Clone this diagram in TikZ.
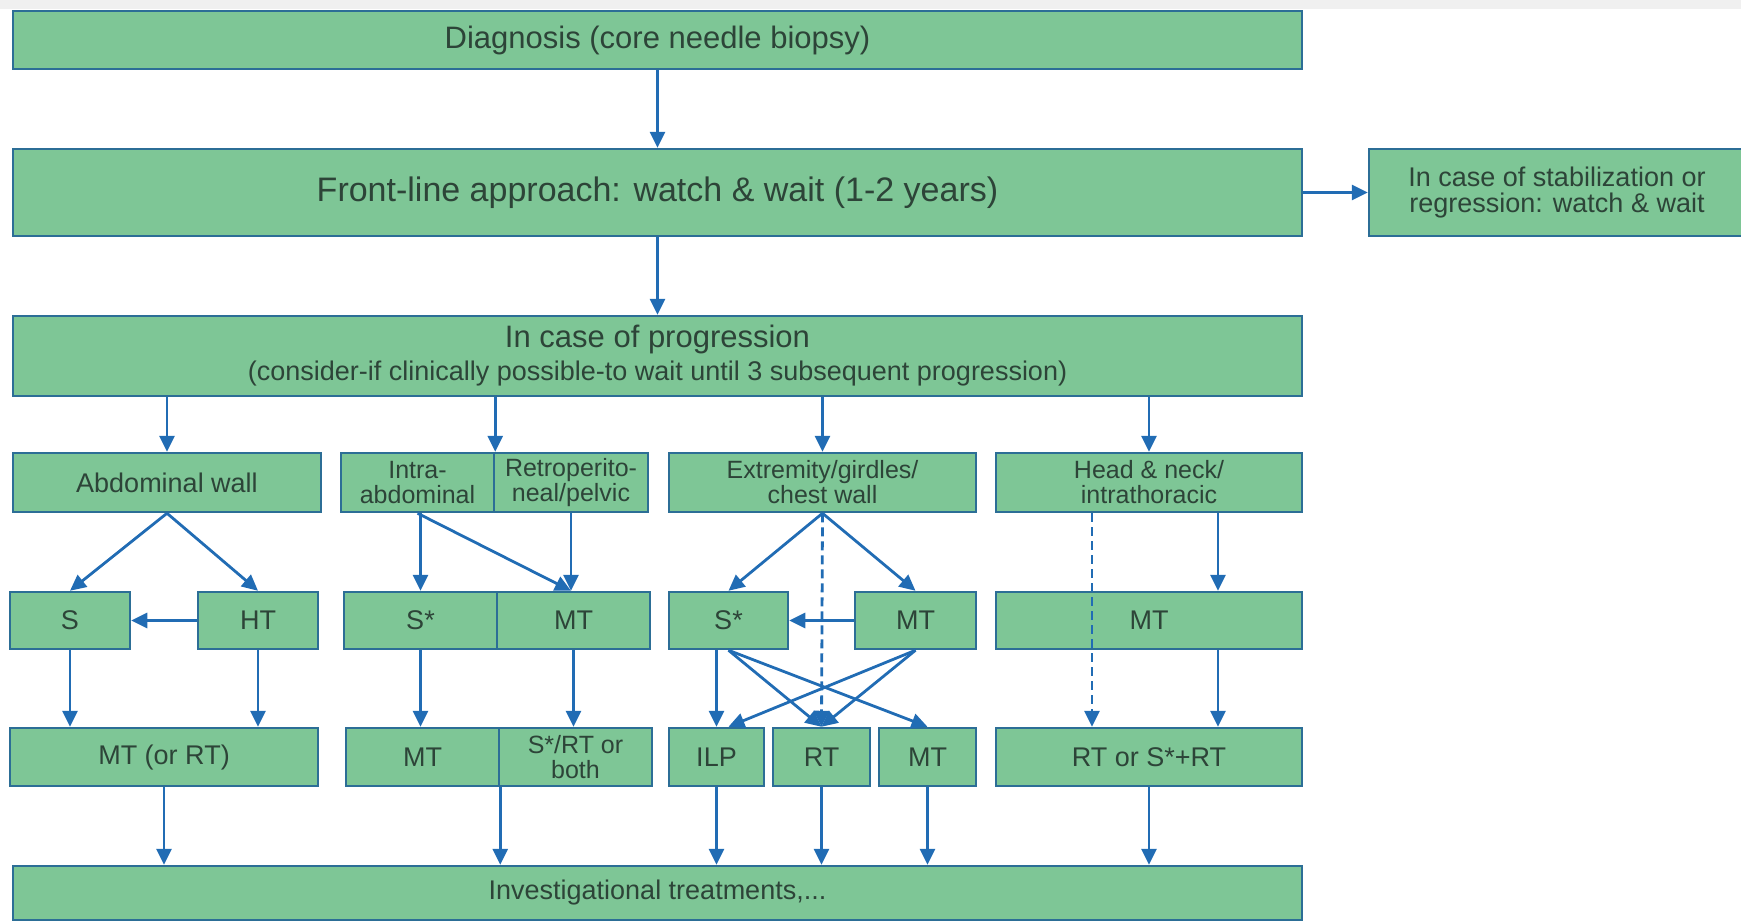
\documentclass[tikz,border=0pt]{standalone}
\usepackage{fontspec}
\setmainfont{Liberation Sans}
\usetikzlibrary{arrows.meta}

\definecolor{boxgreen}{RGB}{126,198,150}
\definecolor{boxline}{RGB}{44,110,150}
\definecolor{arrowblue}{RGB}{33,108,180}
\definecolor{textgray}{RGB}{45,68,56}

\newcommand{\fs}[2]{\fontsize{#1}{#2}\selectfont}

\tikzset{
	box/.style = {draw=boxline, fill=boxgreen, line width=2.5pt, text=textgray, inner sep=0pt, align=center, font=\fs{27}{25}},
	twoline/.style = {font=\fs{25}{25}},
	arr/.style = {draw=arrowblue, line width=2.8pt, -{Triangle[length=16pt, width=15pt]}},
	dashline/.style = {arr, dash pattern=on 9pt off 5pt}
}

\begin{document}
\begin{tikzpicture}[x=1pt, y=-1pt]
			\useasboundingbox (0,0) rectangle (1741,922);
			\fill [black!6] (0,0) rectangle (1741,9);

			% top of the chart
			\node [box, minimum width=1289pt, minimum height=58pt, font=\fs{31}{36}] (diag) at (657.5,40) {Diagnosis (core needle biopsy)};
			\node [box, minimum width=1289pt, minimum height=87pt, font=\fs{34}{40}] (front) at (657.5,192.5) {Front-line approach: watch \& wait (1-2 years)};
			\node [box, minimum width=376pt, minimum height=87pt, font=\fs{27}{26}] (stab) at (1557,192.5) {In case of stabilization or\\regression: watch \& wait};
			\node [box, minimum width=1289pt, minimum height=80pt, font=\fs{31}{33}] (prog) at (657.5,356) {In case of progression\\{\fs{27}{33}(consider-if clinically possible-to wait until 3 subsequent progression)}};

			% sites
			\begin{scope}[every node/.append style={minimum height=59pt}]
				\node [box, minimum width=308pt] (abd) at (167,482.5) {Abdominal wall};
				\node [box, twoline, minimum width=153pt] (intra) at (417.5,482.5) {Intra-\\abdominal};
				\node [box, twoline, minimum width=154pt] (retro) at (571,482.5) {Retroperito-\\neal/pelvic};
				\node [box, twoline, minimum width=307pt] (extr) at (822.5,482.5) {Extremity/girdles/\\chest wall};
				\node [box, twoline, minimum width=306pt] (head) at (1149,482.5) {Head \& neck/\\intrathoracic};
			\end{scope}

			% first treatments
			\begin{scope}[every node/.append style={minimum height=57pt}]
				\node [box, minimum width=120pt] (s) at (70,620.5) {S};
				\node [box, minimum width=120pt] (ht) at (258,620.5) {HT};
				\node [box, minimum width=153pt] (sa) at (420.5,620.5) {S*};
				\node [box, minimum width=153pt] (mta) at (573.5,620.5) {MT};
				\node [box, minimum width=119pt] (se) at (728.5,620.5) {S*};
				\node [box, minimum width=121pt] (mte) at (915.5,620.5) {MT};
				\node [box, minimum width=306pt] (mth) at (1149,620.5) {MT};
			\end{scope}

			% second treatments
			\begin{scope}[every node/.append style={minimum height=58pt}]
				\node [box, minimum width=308pt] (mtrt) at (164,757) {MT (or RT)};
				\node [box, minimum width=153pt] (mtb) at (422.5,757) {MT};
				\node [box, twoline, minimum width=153pt] (srt) at (575.5,757) {S*/RT or\\both};
				\node [box, minimum width=95pt] (ilp) at (716.5,757) {ILP};
				\node [box, minimum width=97pt] (rt) at (821.5,757) {RT};
				\node [box, minimum width=97pt] (mtx) at (927.5,757) {MT};
				\node [box, minimum width=306pt] (rts) at (1149,757) {RT or S*+RT};
			\end{scope}

			\node [box, minimum width=1289pt, minimum height=54pt] (inv) at (657.5,893) {Investigational treatments,...};

			% connectors
			\draw [arr] (diag) -- (front);
			\draw [arr] (front) -- (stab);
			\draw [arr] (front) -- (prog);

			\foreach \n in {abd, extr, head}
			{
				\draw [arr] (\n.north |- prog.south) -- (\n.north);
			}
			\draw [arr] (intra.north east |- prog.south) -- (intra.north east);

			\draw [arr] (abd.south) -- (s.north);
			\draw [arr] (abd.south) -- (ht.north);
			\draw [arr] (ht) -- (s);
			\draw [arr] (s) -- (s |- mtrt.north);
			\draw [arr] (ht) -- (ht |- mtrt.north);

			\draw [arr] (sa.north |- intra.south) -- (sa.north);
			\draw [arr] (intra.south) -- (retro.south |- mta.north);
			\draw [arr] (retro.south) -- (retro.south |- mta.north);
			\draw [arr] (sa) -- (sa |- mtb.north);
			\draw [arr] (mta) -- (mta |- srt.north);

			\draw [arr] (extr.south) -- (se.north);
			\draw [arr] (extr.south) -- (mte.north);
			\draw [dashline] (extr.south) -- (rt.north);
			\draw [arr] (mte) -- (se);
			\draw [arr] (ilp.north |- se.south) -- (ilp.north);
			\draw [arr] (se.south) -- (rt.north);
			\draw [arr] (se.south) -- (mtx.north);
			\draw [arr] (mte.south) -- ([xshift=12pt]ilp.north);
			\draw [arr] (mte.south) -- (rt.north);

			\draw [dashline] ([xshift=-57pt]head.south) -- ([xshift=-57pt]rts.north);
			\draw [arr] ([xshift=69pt]head.south) -- ([xshift=69pt]mth.north);
			\draw [arr] ([xshift=69pt]mth.south) -- ([xshift=69pt]rts.north);

			\foreach \p in {mtrt.south, mtb.south east, ilp.south, rt.south, mtx.south, rts.south}
			{
				\draw [arr] (\p) -- (\p |- inv.north);
			}
		\end{tikzpicture}
\end{document}
